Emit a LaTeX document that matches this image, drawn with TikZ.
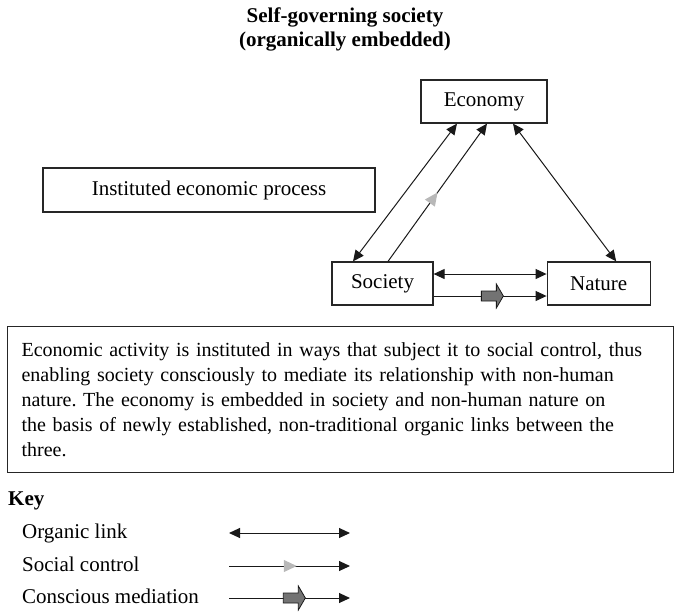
\documentclass[tikz,border=0pt]{standalone}
\usepackage{fontspec}
\setmainfont{Liberation Serif}
\usetikzlibrary{arrows.meta,positioning,decorations.markings}
\frenchspacing

\begin{document}
\begin{tikzpicture}[x=1pt, y=1pt, node distance=113pt, >={Triangle[length=11pt, width=10pt]},
  font=\fontsize{21}{24}\selectfont,
  box/.style={draw=black!85, line width=1.2pt, minimum height=43pt, inner sep=0pt},
  keytext/.style={anchor=west, inner sep=0pt, text height=15pt, text depth=5pt},
  organic/.style={<->, line width=1pt, draw=black!90},
  control/.style={->, line width=1pt, draw=black!90, postaction={decorate},
    decoration={markings, mark=at position #1 with {\arrow[black!28]{Triangle[length=13pt, width=12pt]}}}},
  control/.default=0.5,
  mediation/.style={->, line width=1pt, draw=black!90, postaction={decorate},
    decoration={markings, mark=at position #1 with {\draw[fill=black!55, line width=0.8pt] (-11,-5) -- (4,-5) -- (4,-12) -- (11,0) -- (4,12) -- (4,5) -- (-11,5) -- cycle;}}},
  mediation/.default=0.52]
  \useasboundingbox (0,0) rectangle (675,-614);
  \node[font=\fontsize{21}{24}\selectfont\bfseries, align=center] (title) at (345,-29) {Self-governing society\\(organically embedded)};
  \node[box, minimum width=126pt] (eco) at (484,-101.5) {Economy};
  \node[box, minimum width=332pt, minimum height=44pt] (inst) at (209,-190) {Instituted economic process};
  \node[box, minimum width=101pt] (soc) at (382.5,-283.5) {Society};
  \node[box, minimum width=103pt, right=of soc] (nat) {Nature};
  \draw[organic] ([xshift=-27pt]eco.south) -- ([xshift=-29.5pt]soc.north);
  \draw[control] ([xshift=5.5pt]soc.north) -- ([xshift=3pt]eco.south);
  \draw[organic] ([xshift=29pt]eco.south) -- ([xshift=17.5pt]nat.north);
  \draw[organic] ([yshift=9.5pt]soc.east) -- ([yshift=9.5pt]nat.west);
  \draw[mediation] ([yshift=-12.5pt]soc.east) -- ([yshift=-12.5pt]nat.west);
  \node[box, anchor=north west, minimum width=666pt, minimum height=146pt, text width=638pt, inner xsep=14pt, align=left,
    font=\fontsize{20}{25}\selectfont] (desc) at (7,-326)
    {Economic activity is instituted in ways that subject it to social control, thus\\
     enabling society consciously to mediate its relationship with non-human\\
     nature. The economy is embedded in society and non-human nature on\\
     the basis of newly established, non-traditional organic links between the\\
     three.};
  \node[anchor=west, inner sep=0pt, font=\fontsize{21}{24}\selectfont\bfseries] (key) at (8,-501) {Key};
  \node[keytext] (k1) at (22,-533) {Organic link};
  \node[keytext] (k2) at (22,-566) {Social control};
  \node[keytext] (k3) at (22,-598) {Conscious mediation};
  \coordinate[right=207pt of k1.west] (k1a);
  \coordinate[right=121pt of k1a] (k1b);
  \coordinate[right=207pt of k2.west] (k2a);
  \coordinate[right=121pt of k2a] (k2b);
  \coordinate[right=207pt of k3.west] (k3a);
  \coordinate[right=121pt of k3a] (k3b);
  \draw[organic] (k1a) -- (k1b);
  \draw[control=0.56] (k2a) -- (k2b);
  \draw[mediation=0.54] (k3a) -- (k3b);
\end{tikzpicture}
\end{document}
